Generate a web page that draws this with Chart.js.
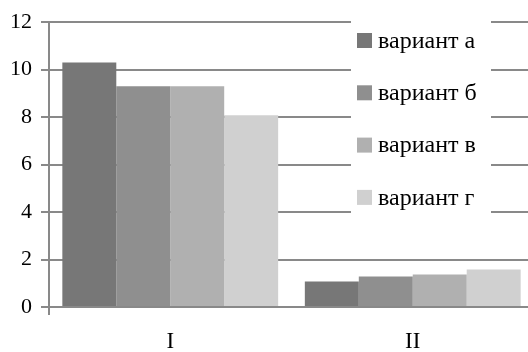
<!DOCTYPE html>
<html>
<head>
<meta charset="utf-8">
<script src="https://cdn.jsdelivr.net/npm/chart.js@4.4.1/dist/chart.umd.min.js"></script>
<style>
  html, body { margin: 0; padding: 0; background: #fff; overflow: hidden; }
  #wrap { width: 534px; height: 352px; }
</style>
</head>
<body>
<div id="wrap"><canvas id="chart"></canvas></div>
<script>
const categories = ['I', 'II'];
const seriesNames = ['вариант а', 'вариант б', 'вариант в', 'вариант г'];
const seriesA = [10.3, 1.07];
const seriesB = [9.3, 1.28];
const seriesC = [9.3, 1.37];
const seriesD = [8.08, 1.58];
const yTicks = [0, 2, 4, 6, 8, 10, 12];

const colors = ['#777777', '#8f8f8f', '#b0b0b0', '#d0d0d0'];
const gridColor = '#898989';
const fontFamily = "'Liberation Serif', 'Times New Roman', Times, serif";

// legend box sits inside the plot area and hides the grid behind it
const boxLegend = {
    id: 'boxLegend',
    afterDatasetsDraw(chart) {
        const ctx = chart.ctx;
        ctx.save();
        ctx.fillStyle = '#fff';
        ctx.fillRect(351, 14, 140, 212);
        ctx.font = '24px ' + fontFamily;
        ctx.textBaseline = 'middle';
        chart.data.datasets.forEach((ds, i) => {
            const y = 40.5 + i * 52.3;
            ctx.fillStyle = ds.backgroundColor;
            ctx.fillRect(357, y - 7.5, 15, 15);
            ctx.fillStyle = '#000';
            ctx.fillText(ds.label, 378, y + 1);
        });
        ctx.restore();
    },
};

new Chart(document.getElementById('chart').getContext('2d'), {
    type: 'bar',
    data: {
        labels: categories,
        datasets: [seriesA, seriesB, seriesC, seriesD].map((d, i) => ({
            label: seriesNames[i],
            data: d,
            backgroundColor: colors[i],
            borderWidth: 0,
            categoryPercentage: 0.89,
            barPercentage: 1.0,
        })),
    },
    options: {
        responsive: true,
        maintainAspectRatio: false,
        animation: false,
        layout: { padding: { top: 22, right: 0, left: 0, bottom: 0 } },
        plugins: { legend: { display: false }, tooltip: { enabled: false } },
        scales: {
            x: {
                afterFit: (s) => { s.height = 45; },
                grid: {
                    drawOnChartArea: false,
                    tickLength: 8,
                    lineWidth: 2,
                    color: (c) => (c.index === 0 ? gridColor : 'rgba(0,0,0,0)'),
                },
                border: { color: gridColor, width: 2 },
                ticks: { color: '#000', font: { family: fontFamily, size: 23 }, padding: 13 },
            },
            y: {
                min: 0,
                max: 12,
                afterFit: (s) => { s.width = 49; },
                afterBuildTicks: (s) => { s.ticks = yTicks.map((v) => ({ value: v })); },
                grid: { color: gridColor, lineWidth: 2, tickLength: 8 },
                border: { color: gridColor, width: 2 },
                ticks: { color: '#000', font: { family: fontFamily, size: 22 }, padding: 9 },
            },
        },
    },
    plugins: [boxLegend],
});
</script>
</body>
</html>
